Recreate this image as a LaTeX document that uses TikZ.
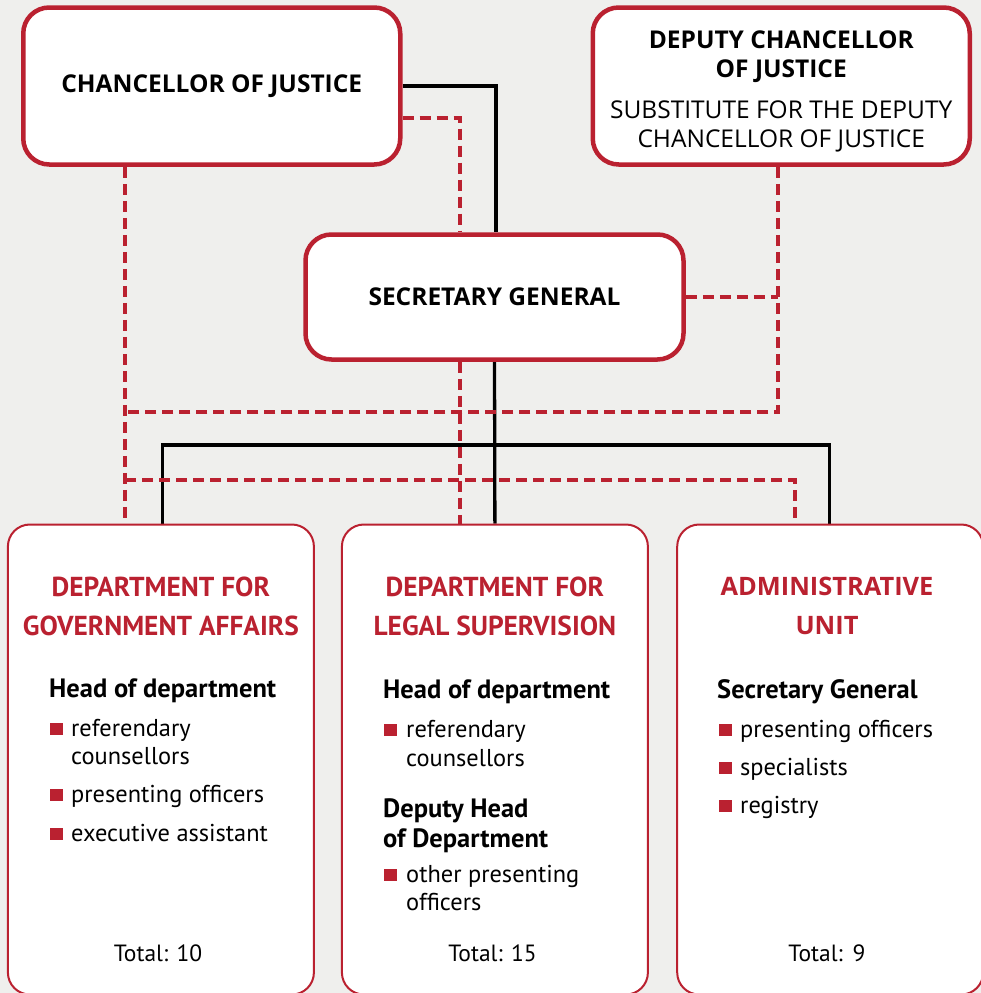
\documentclass[tikz,border=0pt]{standalone}
\usepackage{fontspec}
\setmainfont{PT Sans}
\newfontfamily\headfont{Open Sans}
\usepackage{xcolor}
\usetikzlibrary{positioning}
\usetikzlibrary{calc}
\definecolor{okred}{HTML}{BA2130}
\definecolor{okgray}{HTML}{EFEFED}
\pgfdeclarelayer{bg}
\pgfsetlayers{bg,main}

\tikzset{
  topbox/.style={draw=okred, line width=4.5pt, fill=white, rounded corners=26pt,
    align=center, inner sep=0pt, font=\headfont\fontsize{24.5}{29}\selectfont},
  toptext/.style={align=center, inner sep=0pt, font=\headfont\fontsize{24.5}{29}\selectfont},
  depbox/.style={draw=okred, line width=2pt, fill=white, rounded corners=22pt,
    minimum width=306pt, minimum height=470pt, inner sep=0pt},
  solidline/.style={black, line width=3.3pt},
  dashline/.style={okred, line width=3.1pt, dash pattern=on 11pt off 6pt},
  deptitle/.style={okred, align=center, inner sep=0pt, font=\bfseries\fontsize{27.4}{39}\selectfont},
  headline/.style={anchor=base west, inner sep=0pt, font=\bfseries\fontsize{26.5}{30}\selectfont},
  itemline/.style={anchor=base west, inner sep=0pt, font=\fontsize{24.4}{28}\selectfont},
  bulletbox/.style={fill=okred, minimum width=13pt, minimum height=12pt, inner sep=0pt},
  totalline/.style={anchor=base, inner sep=0pt, font=\fontsize{23.5}{28}\selectfont}
}

\begin{document}
\begin{tikzpicture}[x=1pt,y=-1pt]
 \useasboundingbox (0,0) rectangle (981,993);

 %level 1
 \node[topbox, minimum width=377pt, minimum height=157pt] (CJ) at (211.75,86)
   {\textbf{CHANCELLOR OF JUSTICE}};
 \node[topbox, minimum width=377pt, minimum height=157pt] (DCJ) at (781.25,86) {};
 \node[toptext] (DCJt) at ([yshift=-5pt]DCJ.center)
   {\textbf{DEPUTY CHANCELLOR}\\\textbf{OF JUSTICE}\\[12pt]SUBSTITUTE FOR THE DEPUTY\\CHANCELLOR OF JUSTICE};
 \node[topbox, minimum width=378pt, minimum height=125pt] (SG) at (494.5,297)
   {\textbf{SECRETARY GENERAL}};

 %level 2
 \node[depbox] (D1) at (160.9,759.5) {};
 \node[depbox] (D2) at (494.9,759.5) {};
 \node[depbox] (D3) at (830.2,759.5) {};

 %corners of the connectors
 \coordinate (hub) at (494.5,445);
 \coordinate (dA) at (125,412);
 \coordinate (dB) at (125,480);
 \coordinate (dC) at (778,412);
 \coordinate (dD) at (795,480);
 \coordinate (dE) at (460,118);

 \begin{pgfonlayer}{bg}
  \fill[okgray] (0,0) rectangle (981,993);
  %solid
  \draw[solidline] (CJ.east) -| ([xshift=1.5pt]SG.north);
  \draw[solidline] (SG.south) -- (D2.north);
  \draw[solidline] ([xshift=1.4pt]D1.north) |- (hub) -| ([xshift=-0.9pt]D3.north);
  %dashed
  \draw[dashline] (CJ.south -| dA) -- (D1.north -| dA);
  \draw[dashline] (DCJ.south -| dC) -- (dC) -- (dA);
  \draw[dashline] (SG.east) -- (SG.east -| dC);
  \draw[dashline] (dB) -- (dD) -- (D3.north -| dD);
  \draw[dashline] (CJ.east |- dE) -- (dE) -- (SG.north -| dE);
  \draw[dashline] (SG.south -| dE) -- (D2.north -| dE);
 \end{pgfonlayer}

 %department 1
 \node[deptitle] (T1) at (160.9,606) {DEPARTMENT FOR\\GOVERNMENT AFFAIRS};
 \node[headline] (H1) at (49,697) {Head of department};
 \foreach \y/\txt in {736/referendary, 802/presenting officers, 841/executive assistant} {
   \node[bulletbox] at (56.5,\y-7) {};
   \node[itemline] (A\y) at (71,\y) {\txt};
 }
 \node[itemline] (A764) at (71,764) {counsellors};
 \node[totalline] (S1) at (158,961) {Total: 10};

 %department 2
 \node[deptitle] (T2) at (494.9,606) {DEPARTMENT FOR\\LEGAL SUPERVISION};
 \node[headline] (H2) at (383,698) {Head of department};
 \node[headline] (H3) at (383,817) {Deputy Head};
 \node[headline] (H4) at (383,847) {of Department};
 \foreach \y/\txt in {737/referendary, 882/other presenting} {
   \node[bulletbox] at (390.5,\y-7) {};
   \node[itemline] (B\y) at (406,\y) {\txt};
 }
 \node[itemline] (B766) at (406,766) {counsellors};
 \node[itemline] (B910) at (406,910) {officers};
 \node[totalline] (S2) at (492.5,961) {Total: 15};

 %department 3
 \node[deptitle, font=\headfont\bfseries\fontsize{25.4}{39}\selectfont] (T3) at (827,606) {ADMINISTRATIVE\\UNIT};
 \node[headline] (H5) at (717,698) {Secretary General};
 \foreach \y/\txt in {737/presenting officers, 775/specialists, 813/registry} {
   \node[bulletbox] at (725,\y-7) {};
   \node[itemline] (C\y) at (740,\y) {\txt};
 }
 \node[totalline] (S3) at (827,961) {Total:\hspace{10pt}9};
\end{tikzpicture}
\end{document}
